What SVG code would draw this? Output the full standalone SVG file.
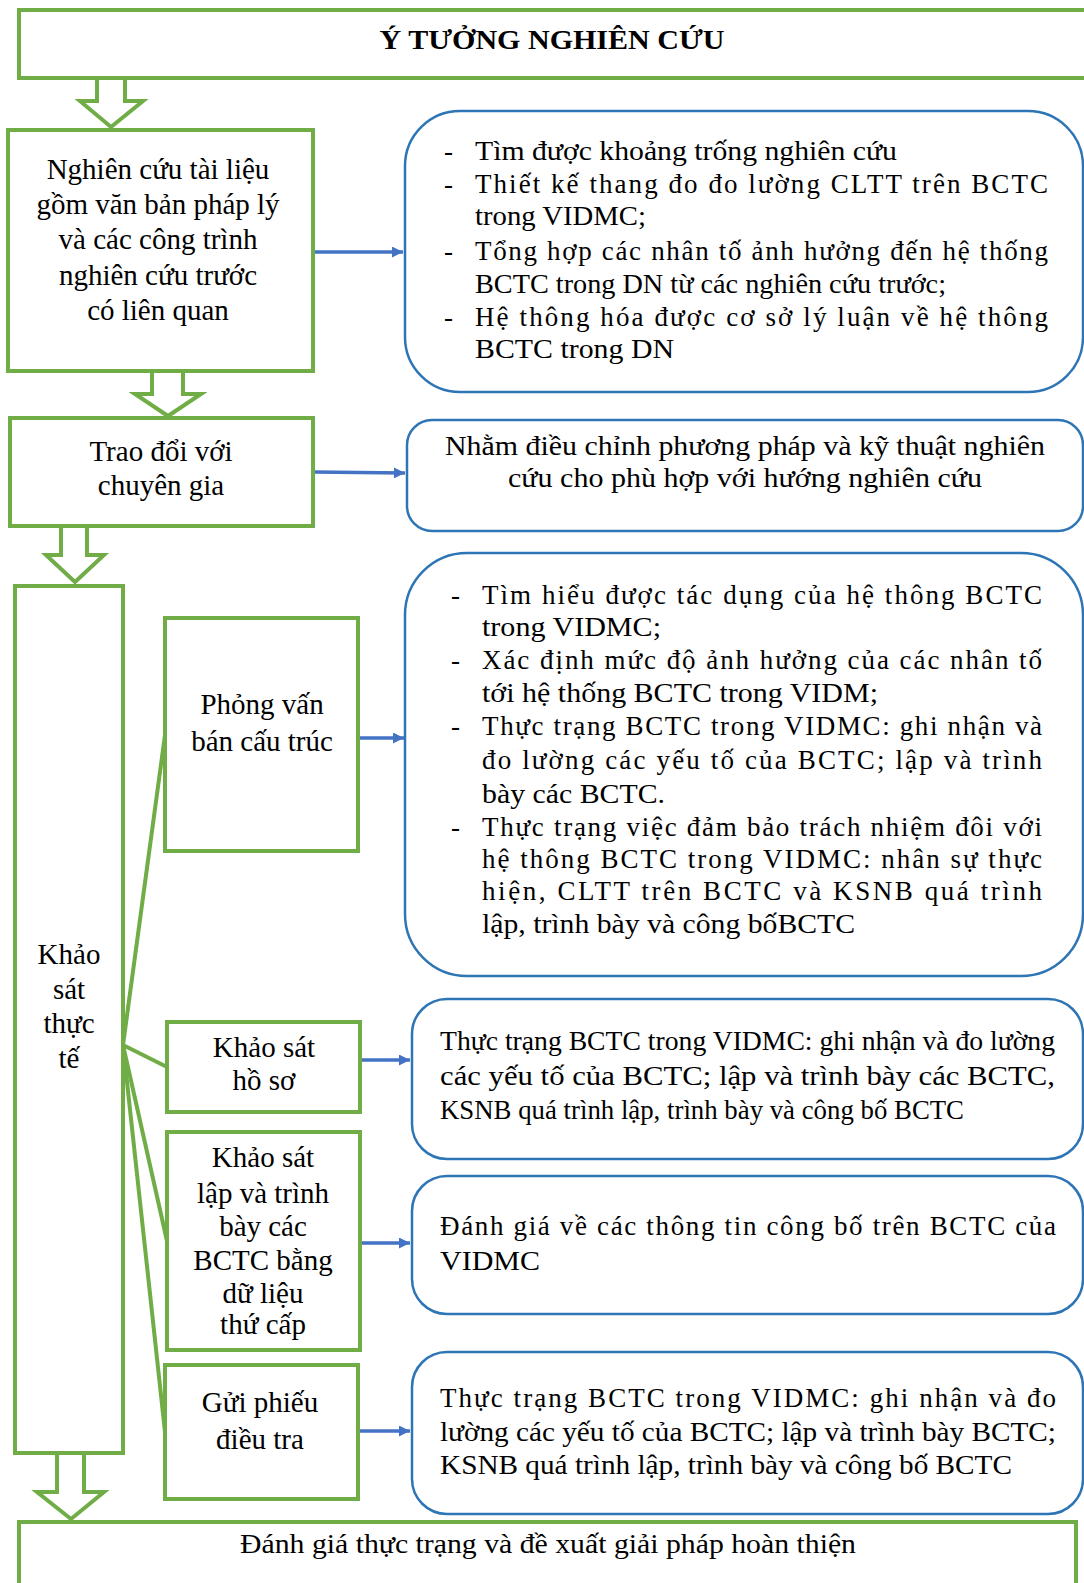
<svg xmlns="http://www.w3.org/2000/svg" width="1084" height="1583" viewBox="0 0 1084 1583">
<defs>
<style>
.g{fill:#fff;stroke:#70AD47;stroke-width:4}
.b{fill:#fff;stroke:#2E75B6;stroke-width:2.5}
.ba{fill:#fff;stroke:#70AD47;stroke-width:4;stroke-linejoin:miter}
.fan{fill:none;stroke:#70AD47;stroke-width:4}
.con{fill:none;stroke:#4472C4;stroke-width:3.5;marker-end:url(#ah)}
text{font-family:"Liberation Serif","Times New Roman",serif;fill:#000}
.t{font-size:29px}
.c{text-anchor:middle}
.h{font-size:27px;font-weight:bold}
.p{font-size:27px}
</style>
<marker id="ah" viewBox="0 0 10 10" refX="10" refY="5" markerWidth="13" markerHeight="11" markerUnits="userSpaceOnUse" orient="auto">
<path d="M0,0 L10,5 L0,10 z" fill="#4472C4"/>
</marker>
</defs>

<g id="connectors">
<polygon class="ba" points="97,78 97,101 80,101 111,127 143,101 125,101 125,78"/>
<polygon class="ba" points="152,371 152,394 135,394 168,416 201,394 183,394 183,371"/>
<polygon class="ba" points="61,526 61,555 46,555 75,582 104,555 87,555 87,526"/>
<polygon class="ba" points="57,1453 57,1492 37,1492 71,1519 104,1492 84,1492 84,1453"/>
<path class="fan" d="M123,1045 L165,735"/>
<path class="fan" d="M123,1045 L167,1067"/>
<path class="fan" d="M123,1045 L167,1241"/>
<path class="fan" d="M123,1045 L165,1432"/>
<path class="con" d="M313,252 L403,252"/>
<path class="con" d="M313,472 L405,473"/>
<path class="con" d="M358,738 L404,738"/>
<path class="con" d="M360,1060 L410,1060"/>
<path class="con" d="M360,1243 L410,1243"/>
<path class="con" d="M358,1431 L410,1431"/>
</g>

<g id="n-title">
<rect class="g" x="19" y="10" width="1090" height="68"/>
<text class="h c" x="552" y="49" textLength="345" lengthAdjust="spacingAndGlyphs">Ý TƯỞNG NGHIÊN CỨU</text>
</g>

<g id="n-nghiencuu">
<rect class="g" x="8" y="130" width="305" height="241"/>
<text class="t c" x="158" y="179">Nghiên cứu tài liệu</text>
<text class="t c" x="158" y="214">gồm văn bản pháp lý</text>
<text class="t c" x="158" y="249">và các công trình</text>
<text class="t c" x="158" y="285">nghiên cứu trước</text>
<text class="t c" x="158" y="320">có liên quan</text>
</g>

<g id="n-bubble1">
<rect class="b" x="405" y="111" width="678" height="281" rx="55" ry="55"/>
<text class="p" x="444" y="160">-</text>
<text class="p" x="444" y="193">-</text>
<text class="p" x="444" y="260">-</text>
<text class="p" x="444" y="326">-</text>
<text class="p" x="475" y="160" textLength="422" lengthAdjust="spacingAndGlyphs">Tìm được khoảng trống nghiên cứu</text>
<text class="p" x="475" y="193" textLength="573" lengthAdjust="spacing">Thiết kế thang đo đo lường CLTT trên BCTC</text>
<text class="p" x="475" y="225" textLength="171" lengthAdjust="spacingAndGlyphs">trong VIDMC;</text>
<text class="p" x="475" y="260" textLength="573" lengthAdjust="spacing">Tổng hợp các nhân tố ảnh hưởng đến hệ thống</text>
<text class="p" x="475" y="293" textLength="471" lengthAdjust="spacingAndGlyphs">BCTC trong DN từ các nghiên cứu trước;</text>
<text class="p" x="475" y="326" textLength="573" lengthAdjust="spacing">Hệ thông hóa được cơ sở lý luận về hệ thông</text>
<text class="p" x="475" y="358" textLength="199" lengthAdjust="spacingAndGlyphs">BCTC trong DN</text>
</g>

<g id="n-traodoi">
<rect class="g" x="10" y="418" width="303" height="108"/>
<text class="t c" x="161" y="461">Trao đổi với</text>
<text class="t c" x="161" y="495">chuyên gia</text>
</g>

<g id="n-bubble2">
<rect class="b" x="407" y="420" width="676" height="111" rx="25" ry="25"/>
<text class="p c" x="745" y="455" textLength="600" lengthAdjust="spacingAndGlyphs">Nhằm điều chỉnh phương pháp và kỹ thuật nghiên</text>
<text class="p c" x="745" y="487" textLength="474" lengthAdjust="spacingAndGlyphs">cứu cho phù hợp với hướng nghiên cứu</text>
</g>

<g id="n-khaosat">
<rect class="g" x="15" y="586" width="108" height="867"/>
<text class="t c" x="69" y="964">Khảo</text>
<text class="t c" x="69" y="999">sát</text>
<text class="t c" x="69" y="1033">thực</text>
<text class="t c" x="69" y="1068">tế</text>
</g>

<g id="n-phongvan">
<rect class="g" x="165" y="618" width="193" height="233"/>
<text class="t c" x="262" y="714">Phỏng vấn</text>
<text class="t c" x="262" y="751">bán cấu trúc</text>
</g>

<g id="n-bubble3">
<rect class="b" x="405" y="553" width="678" height="423" rx="62" ry="62"/>
<text class="p" x="451" y="604">-</text>
<text class="p" x="451" y="669">-</text>
<text class="p" x="451" y="735">-</text>
<text class="p" x="451" y="836">-</text>
<text class="p" x="482" y="604" textLength="560" lengthAdjust="spacing">Tìm hiểu được tác dụng của hệ thông BCTC</text>
<text class="p" x="482" y="636" textLength="179" lengthAdjust="spacingAndGlyphs">trong VIDMC;</text>
<text class="p" x="482" y="669" textLength="560" lengthAdjust="spacing">Xác định mức độ ảnh hưởng của các nhân tố</text>
<text class="p" x="482" y="702" textLength="396" lengthAdjust="spacingAndGlyphs">tới hệ thống BCTC trong VIDM;</text>
<text class="p" x="482" y="735" textLength="560" lengthAdjust="spacing">Thực trạng BCTC trong VIDMC: ghi nhận và</text>
<text class="p" x="482" y="769" textLength="560" lengthAdjust="spacing">đo lường các yếu tố của BCTC; lập và trình</text>
<text class="p" x="482" y="803" textLength="183" lengthAdjust="spacingAndGlyphs">bày các BCTC.</text>
<text class="p" x="482" y="836" textLength="560" lengthAdjust="spacing">Thực trạng việc đảm bảo trách nhiệm đôi với</text>
<text class="p" x="482" y="868" textLength="560" lengthAdjust="spacing">hệ thông BCTC trong VIDMC: nhân sự thực</text>
<text class="p" x="482" y="900" textLength="560" lengthAdjust="spacing">hiện, CLTT trên BCTC và KSNB quá trình</text>
<text class="p" x="482" y="933" textLength="373" lengthAdjust="spacingAndGlyphs">lập, trình bày và công bốBCTC</text>
</g>

<g id="n-hoso">
<rect class="g" x="167" y="1022" width="193" height="90"/>
<text class="t c" x="264" y="1057">Khảo sát</text>
<text class="t c" x="264" y="1090">hồ sơ</text>
</g>

<g id="n-bubble4">
<rect class="b" x="412" y="999" width="671" height="160" rx="35" ry="35"/>
<text class="p" x="440" y="1050" textLength="615" lengthAdjust="spacingAndGlyphs">Thực trạng BCTC trong VIDMC: ghi nhận và đo lường</text>
<text class="p" x="440" y="1085" textLength="615" lengthAdjust="spacingAndGlyphs">các yếu tố của BCTC; lập và trình bày các BCTC,</text>
<text class="p" x="440" y="1119" textLength="524" lengthAdjust="spacingAndGlyphs">KSNB quá trình lập, trình bày và công bố BCTC</text>
</g>

<g id="n-laptrinhbay">
<rect class="g" x="167" y="1132" width="193" height="218"/>
<text class="t c" x="263" y="1167">Khảo sát</text>
<text class="t c" x="263" y="1203">lập và trình</text>
<text class="t c" x="263" y="1236">bày các</text>
<text class="t c" x="263" y="1270">BCTC bằng</text>
<text class="t c" x="263" y="1303">dữ liệu</text>
<text class="t c" x="263" y="1334">thứ cấp</text>
</g>

<g id="n-bubble5">
<rect class="b" x="412" y="1176" width="671" height="138" rx="35" ry="35"/>
<text class="p" x="440" y="1235" textLength="616" lengthAdjust="spacing">Đánh giá về các thông tin công bố trên BCTC của</text>
<text class="p" x="440" y="1270" textLength="100" lengthAdjust="spacingAndGlyphs">VIDMC</text>
</g>

<g id="n-guiphieu">
<rect class="g" x="165" y="1365" width="193" height="134"/>
<text class="t c" x="260" y="1412">Gửi phiếu</text>
<text class="t c" x="260" y="1449">điều tra</text>
</g>

<g id="n-bubble6">
<rect class="b" x="412" y="1352" width="671" height="162" rx="35" ry="35"/>
<text class="p" x="440" y="1407" textLength="616" lengthAdjust="spacing">Thực trạng BCTC trong VIDMC: ghi nhận và đo</text>
<text class="p" x="440" y="1441" textLength="616" lengthAdjust="spacingAndGlyphs">lường các yếu tố của BCTC; lập và trình bày BCTC;</text>
<text class="p" x="440" y="1474" textLength="572" lengthAdjust="spacingAndGlyphs">KSNB quá trình lập, trình bày và công bố BCTC</text>
</g>

<g id="n-danhgia">
<rect class="g" x="19" y="1522" width="1057" height="90"/>
<text class="p c" x="548" y="1553" textLength="616" lengthAdjust="spacingAndGlyphs">Đánh giá thực trạng và đề xuất giải pháp hoàn thiện</text>
</g>
</svg>
